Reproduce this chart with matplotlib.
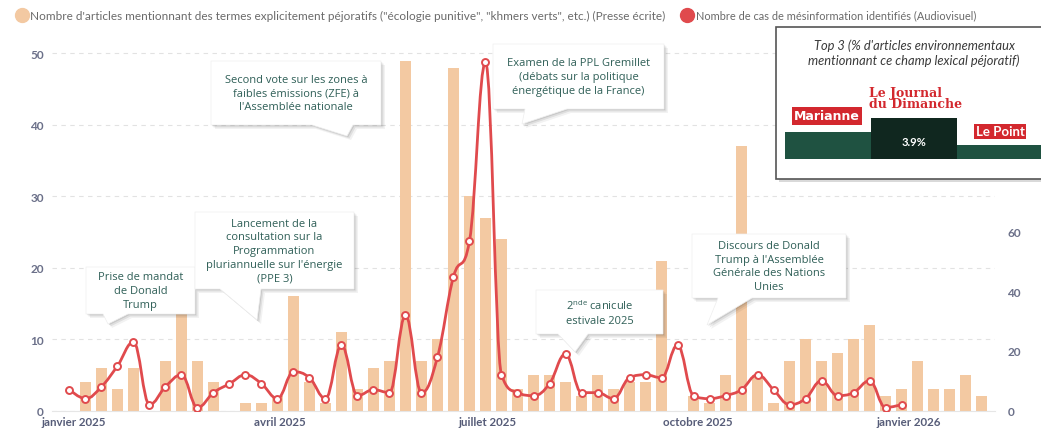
import matplotlib
matplotlib.use("Agg")
import matplotlib.pyplot as plt
import matplotlib.dates as mdates
from matplotlib.path import Path
from matplotlib.patches import PathPatch, Polygon, Rectangle
from matplotlib.lines import Line2D
import datetime as dt

W, H = 1041, 431
plt.rcParams['font.family'] = ['Lato', 'DejaVu Sans']
plt.rcParams['mathtext.fontset'] = 'custom'
plt.rcParams['mathtext.rm'] = 'Open Sans'

# weekly data, weeks starting Monday 30 Dec 2024
first_week = dt.date(2024, 12, 30)
articles = [0, 4, 6, 3, 6, 0, 7, 14, 7, 4, 0, 1, 1, 2, 16, 4, 1, 11, 3, 6,
            7, 49, 7, 10, 48, 30, 27, 24, 3, 5, 5, 4, 2, 5, 3, 4, 4, 21, 0, 2,
            1, 5, 37, 5, 1, 7, 10, 7, 8, 10, 12, 2, 3, 7, 3, 3, 5, 2]
desinfo = [7, 4, 8, 15, 23, 2, 8, 12, 1, 6, 9, 12, 9, 4, 13, 11, 4, 22, 5, 7,
           6, 32, 6, 18, 45, 57, 117, 12, 6, 5, 9, 19, 6, 6, 4, 11, 12, 11, 22, 5,
           4, 5, 7, 12, 7, 2, 4, 10, 5, 6, 10, 1, 2]
tick_dates = [dt.date(2025, 1, 1), dt.date(2025, 4, 1), dt.date(2025, 7, 1),
              dt.date(2025, 10, 1), dt.date(2026, 1, 1)]
tick_labels = ['janvier 2025', 'avril 2025', 'juillet 2025', 'octobre 2025', 'janvier 2026']
label_articles = 'Nombre d\'articles mentionnant des termes explicitement péjoratifs ("écologie punitive", "khmers verts", etc.) (Presse écrite)'
label_desinfo = 'Nombre de cas de mésinformation identifiés (Audiovisuel)'

# podium of the "Top 3" inset (left, middle, right)
podium_names = ['Marianne', 'Le Journal\ndu Dimanche', 'Le Point']
podium_levels = [2, 3, 1]
podium_value = '3.9%'

PEACH = '#f3c9a2'
RED = '#e04a4d'
TEAL = '#2f5f57'
CALLOUT_FONT = ['Open Sans', 'DejaVu Sans']


def fx(x):
    return x / W


def fy(y):
    return 1 - y / H


def hc_spline(xs, ys, s=1.5):
    # highcharts-like spline path through the points
    n = len(xs)
    lc = [None] * n
    rc = [None] * n
    for i in range(n):
        x, y = xs[i], ys[i]
        if i == 0 or i == n - 1:
            lc[i] = rc[i] = (x, y)
            continue
        px, py = xs[i - 1], ys[i - 1]
        nx, ny = xs[i + 1], ys[i + 1]
        lx, ly = (s * x + px) / (s + 1), (s * y + py) / (s + 1)
        rx, ry = (s * x + nx) / (s + 1), (s * y + ny) / (s + 1)
        corr = (ry - ly) * (rx - x) / (rx - lx) + y - ry
        ly += corr
        ry += corr
        if ly > py and ly > y:
            ly = max(py, y); ry = 2 * y - ly
        elif ly < py and ly < y:
            ly = min(py, y); ry = 2 * y - ly
        if ry > ny and ry > y:
            ry = max(ny, y); ly = 2 * y - ry
        elif ry < ny and ry < y:
            ry = min(ny, y); ly = 2 * y - ry
        lc[i] = (lx, ly)
        rc[i] = (rx, ry)
    verts = [(xs[0], ys[0])]
    codes = [Path.MOVETO]
    for i in range(1, n):
        verts += [rc[i - 1], lc[i], (xs[i], ys[i])]
        codes += [Path.CURVE4] * 3
    return Path(verts, codes)


weeks = [first_week + dt.timedelta(weeks=i) for i in range(len(articles))]
xa = mdates.date2num(weeks)
xd = xa[:len(desinfo)]

fig = plt.figure(figsize=(W / 100, H / 100), dpi=100)
fig.patch.set_facecolor('white')

ax1 = fig.add_axes([fx(52), fy(411.5), fx(995) - fx(52), fy(40.2) - fy(411.5)])
ax1.bar(xa, articles, width=5, color=PEACH, zorder=2)
ax1.set_xlim(xa[0] - 7.65, xa[0] + 404.9)
ax1.set_ylim(0, 52)
ax1.set_yticks([0, 10, 20, 30, 40, 50])
ax1.set_axisbelow(True)
ax1.yaxis.grid(True, linestyle=(0, (4, 4)), color='#e2e2e2', linewidth=0.8)
ax1.set_xticks(mdates.date2num(tick_dates))
ax1.set_xticklabels(tick_labels)
ax1.tick_params(axis='x', length=0, pad=4, labelsize=8.3, labelcolor='#565c78')
ax1.tick_params(axis='y', length=0, pad=6, labelsize=8.5, labelcolor='#6b7089')
for lab in ax1.get_xticklabels() + ax1.get_yticklabels():
    lab.set_fontweight('bold')
for side in ['top', 'left', 'right']:
    ax1.spines[side].set_visible(False)
ax1.spines['bottom'].set_color('#e6e6e6')

ax2 = ax1.twinx()
ax2.set_ylim(0, 52 * 2.4)
ax2.set_yticks(range(0, 61, 20))
ax2.tick_params(axis='y', length=0, pad=9, labelsize=8.5, labelcolor='#6b7089')
for lab in ax2.get_yticklabels():
    lab.set_fontweight('bold')
for side in ['top', 'left', 'right', 'bottom']:
    ax2.spines[side].set_visible(False)
ax2.add_patch(PathPatch(hc_spline(list(xd), desinfo), fill=False, edgecolor=RED,
                        linewidth=2, zorder=3))
ax2.plot(xd, desinfo, 'o', markerfacecolor='white', markeredgecolor=RED,
         markersize=5, markeredgewidth=1.4, zorder=4)

# legend
fig.add_artist(Line2D([fx(22)], [fy(16)], marker='o', markersize=10, color=PEACH,
                      transform=fig.transFigure))
fig.text(fx(30), fy(16), label_articles, fontsize=8.5, color='#6a6a6a', va='center')
fig.add_artist(Line2D([fx(687)], [fy(16)], marker='o', markersize=10, color=RED,
                      transform=fig.transFigure))
fig.text(fx(696), fy(16), label_desinfo, fontsize=7.9, color='#6a6a6a', va='center')


def callout(x0, y0, x1, y1, bl, br, tip, text):
    pts = [(x0, y0), (x1, y0), (x1, y1), (br, y1), tip, (bl, y1), (x0, y1)]
    for off, a in [(4, 0.05), (2.5, 0.08), (1.2, 0.1)]:
        sh = [(fx(px + off), fy(py + off)) for px, py in pts]
        fig.add_artist(Polygon(sh, closed=True, facecolor='black', edgecolor='none',
                               alpha=a, transform=fig.transFigure, zorder=5))
    fig.add_artist(Polygon([(fx(px), fy(py)) for px, py in pts], closed=True,
                           facecolor='white', edgecolor='#eeeeee', linewidth=0.5,
                           transform=fig.transFigure, zorder=6))
    fig.text(fx((x0 + x1) / 2), fy((y0 + y1) / 2), text, ha='center', va='center',
             fontsize=8, color=TEAL, linespacing=1.33, family=CALLOUT_FONT, zorder=7)


callout(86, 268, 195, 315, 103, 128, (108, 325), 'Prise de mandat\nde Donald\nTrump')
callout(195, 213, 354, 290, 220, 261, (257, 321),
        "Lancement de la\nconsultation sur la\nProgrammation\npluriannuelle sur l'énergie\n(PPE 3)")
callout(211, 62, 381, 126, 312, 353, (347, 137),
        "Second vote sur les zones à\nfaibles émissions (ZFE) à\nl'Assemblée nationale")
callout(493, 45, 664, 110, 525, 567, (522, 125),
        'Examen de la PPL Gremillet\n(débats sur la politique\nénergétique de la France)')
callout(536, 291, 663, 335, 558, 588, (575, 353), '2$^{\\mathrm{nde}}$ canicule\nestivale 2025')
callout(692, 235, 846, 299, 718, 752, (707, 326),
        "Discours de Donald\nTrump à l'Assemblée\nGénérale des Nations\nUnies")

# Top 3 inset
fig.add_artist(Rectangle((fx(779), fy(183)), fx(1050) - fx(779), fy(31) - fy(183),
                         facecolor='black', alpha=0.15, edgecolor='none',
                         transform=fig.transFigure, zorder=10))
fig.add_artist(Rectangle((fx(776), fy(180)), fx(1050) - fx(776), fy(28) - fy(180),
                         facecolor='white', edgecolor='#555555', linewidth=1.2,
                         transform=fig.transFigure, zorder=11))
fig.text(fx(914), fy(53.5), "Top 3 (% d'articles environnementaux\nmentionnant ce champ lexical péjoratif)",
         ha='center', va='center', fontsize=9.3, style='italic', color='#3a3a3a',
         linespacing=1.25, zorder=12)

ax3 = fig.add_axes([fx(785), fy(160), fx(1043) - fx(785), fy(119) - fy(160)])
ax3.set_zorder(12)
ax3.bar(range(3), podium_levels, width=1.0, color=['#1f5241', '#10271f', '#1f5241'])
ax3.set_xlim(-0.5, 2.5)
ax3.set_ylim(0, 3)
ax3.axis('off')
ax3.text(1, 1.25, podium_value, ha='center', va='center', color='white',
         fontsize=8, fontweight='bold')

fig.text(fx(827), fy(116.5), podium_names[0], ha='center', va='center', color='white',
         fontsize=9, fontweight='bold', family=['Liberation Sans Narrow', 'DejaVu Sans'],
         bbox=dict(boxstyle='square,pad=0.2', facecolor='#d3282e', edgecolor='none'),
         zorder=13)
fig.text(fx(869), fy(99), podium_names[1], ha='left', va='center', color='#d3282e',
         fontsize=9, fontweight='bold', family=['DejaVu Serif'], linespacing=0.8,
         zorder=13)
fig.text(fx(1000), fy(132.5), podium_names[2], ha='center', va='center', color='white',
         fontsize=9.5, fontweight='bold',
         bbox=dict(boxstyle='square,pad=0.15', facecolor='#d3282e', edgecolor='none'),
         zorder=13)

fig.savefig('out.png', dpi=100, facecolor='white')
